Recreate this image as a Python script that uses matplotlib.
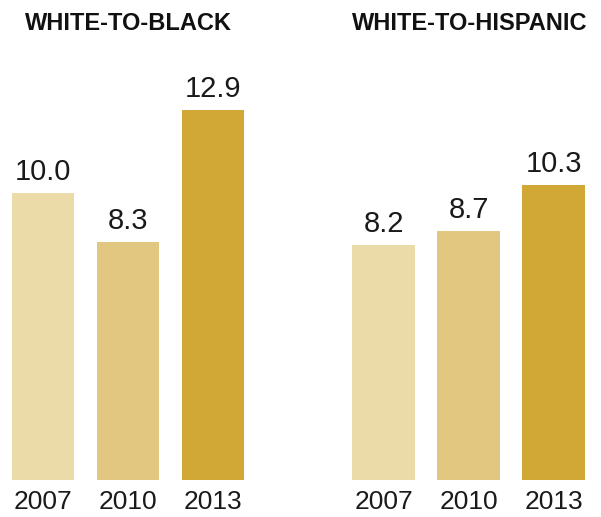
import matplotlib
matplotlib.use("Agg")
import matplotlib.pyplot as plt

years = ["2007", "2010", "2013"]
black_ratio = [10.0, 8.3, 12.9]
hispanic_ratio = [8.2, 8.7, 10.3]
titles = ["WHITE-TO-BLACK", "WHITE-TO-HISPANIC"]

COLORS = ["#EADBA8", "#E1C77F", "#D1A735"]
W, H = 601, 517

fig = plt.figure(figsize=(W / 100, H / 100), dpi=100)


def px_axes(left, right, bottom_from_top, top_from_top):
    return fig.add_axes([left / W, 1 - bottom_from_top / H,
                         (right - left) / W, (bottom_from_top - top_from_top) / H])


panels = [
    (px_axes(0.5, 255.5, 480, 50), black_ratio, titles[0], 128),
    (px_axes(341, 596, 480, 50), hispanic_ratio, titles[1], 470),
]

for ax, values, title, cx in panels:
    xs = range(len(years))
    ax.bar(xs, values, width=0.73, color=COLORS)
    ax.set_xlim(-0.5, 2.5)
    ax.set_ylim(0, 15)
    for x, v in zip(xs, values):
        ax.annotate(f"{v:.1f}", (x, v), xytext=(0, 9.4), textcoords="offset points",
                    ha="center", va="baseline", fontsize=21,
                    family="Liberation Sans", color="#1a1a1a")
    ax.set_xticks(list(xs))
    ax.set_xticklabels(years, fontsize=19, family="Liberation Sans", color="#1a1a1a")
    ax.tick_params(axis="x", length=0, pad=7)
    ax.set_yticks([])
    for s in ax.spines.values():
        s.set_visible(False)
    fig.text(cx / W, 1 - 23 / H, title, ha="center", va="center",
             fontsize=17, fontweight="bold", family="Liberation Sans", color="#111111")

fig.savefig("out.png", dpi=100)
